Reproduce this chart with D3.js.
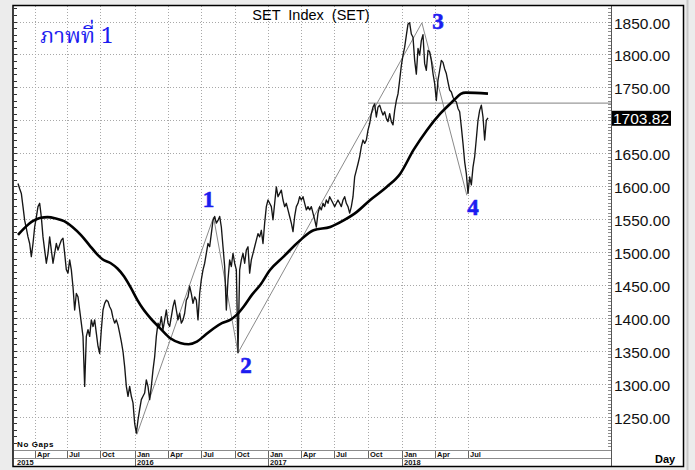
<!DOCTYPE html>
<html>
<head>
<meta charset="utf-8">
<script src="https://cdn.jsdelivr.net/npm/d3@7"></script>
<style>
    html, body { margin: 0; padding: 0; background: #ececec; }
    svg { display: block; }
    .grid line { stroke: #a8a8a8; stroke-width: 1; stroke-dasharray: 1,2; }
    .price { fill: none; stroke: #161616; stroke-width: 1.35; stroke-linejoin: round; }
    .ma { fill: none; stroke: #000; stroke-width: 2.6; }
    .trend { fill: none; stroke: #8a8a8a; stroke-width: 1; }
    .level { stroke: #9a9a9a; stroke-width: 1.4; }
    .ylabel { font: 15.5px "Liberation Sans", Arial, sans-serif; fill: #111; }
    .tlabel { font: bold 7.5px "Liberation Sans", Arial, sans-serif; fill: #111; }
    .wave { font: bold 23px "Liberation Serif", "Times New Roman", serif; fill: #1c1cf0; stroke: #1c1cf0; stroke-width: 0.6; text-anchor: middle; }
</style>
</head>
<body>
<svg id="chart" width="695" height="470"></svg>
<script>
// SET index, one close every 3 sessions, starting mid Feb 2015
const SESSION_STEP = 3;
const closes = [
    1604, 1596, 1589, 1569, 1548, 1536, 1523, 1513, 1493, 1513,
    1538, 1553, 1569, 1574, 1553, 1523, 1503, 1483, 1498, 1523,
    1503, 1483, 1498, 1513, 1503, 1511, 1518, 1521, 1498, 1473,
    1468, 1488, 1473, 1447, 1412, 1437, 1432, 1412, 1392, 1372,
    1296, 1372, 1382, 1372, 1397, 1387, 1397, 1377, 1357, 1346,
    1382, 1412, 1422, 1427, 1425, 1417, 1412, 1400, 1392, 1397,
    1389, 1377, 1364, 1349, 1326, 1296, 1281, 1296, 1281, 1271,
    1240, 1225, 1245, 1261, 1276, 1281,
    1286, 1306, 1296, 1276, 1296, 1321, 1341, 1372, 1392, 1387,
    1402, 1382, 1397, 1412, 1392, 1387, 1402, 1417, 1427, 1412,
    1397, 1407, 1392, 1397, 1407, 1427, 1432, 1448, 1437, 1422,
    1432, 1427, 1397, 1437, 1458, 1473, 1483, 1498, 1513, 1508,
    1528, 1548, 1554, 1544, 1548, 1554, 1538, 1508, 1478, 1412,
    1458, 1488, 1478, 1498, 1483, 1473, 1347, 1473, 1488, 1498,
    1483, 1503, 1508, 1468, 1488, 1498, 1508, 1518,
    1528, 1523, 1533, 1513, 1544, 1569, 1579, 1574, 1569, 1549,
    1574, 1599, 1584, 1589, 1594, 1579, 1569, 1574, 1564, 1554,
    1544, 1531, 1554, 1569, 1574, 1584, 1579, 1584, 1574, 1564,
    1569, 1564, 1569, 1559, 1549, 1538, 1559, 1569, 1564, 1574,
    1569, 1579, 1574, 1584, 1579, 1574, 1569, 1574, 1579, 1574,
    1569, 1579, 1584, 1574, 1569, 1559, 1569, 1584, 1614, 1624,
    1634, 1645, 1660, 1670, 1665, 1670, 1685, 1695, 1710, 1720,
    1725, 1705,
    1720, 1723, 1715, 1708, 1713, 1703, 1698, 1710, 1698, 1693,
    1715, 1730, 1740, 1761, 1783, 1799, 1811, 1829, 1846, 1848,
    1831, 1826, 1791, 1770, 1809, 1799, 1821, 1830, 1786, 1776,
    1806, 1804, 1791, 1771, 1756, 1730, 1761, 1776, 1791, 1788,
    1778, 1771, 1758, 1746, 1743, 1735, 1730, 1728, 1718, 1713,
    1690, 1665, 1637, 1619, 1589, 1614, 1602, 1629, 1645, 1672,
    1700, 1715, 1723, 1705, 1670, 1700, 1703.82
];

// 200 day average
const maSessions = [0, 11, 20, 29, 41, 53, 68, 83, 98, 113, 128, 143, 152, 167, 179, 191, 203, 215, 224, 238,
    256, 274, 292, 307, 322, 337, 352, 367, 382, 394, 406, 421, 436, 454, 478, 508, 532, 562, 586, 610,
    634, 664, 688, 712, 736, 760, 784, 797, 806, 846];
const maValues = [1526, 1536, 1543, 1548, 1552, 1553, 1551, 1547, 1538, 1526, 1511, 1496, 1489, 1483, 1475, 1463, 1446, 1427, 1415, 1400,
    1384, 1369, 1362, 1360, 1364, 1374, 1384, 1392, 1397, 1405, 1417, 1435, 1450, 1473, 1493, 1518, 1533, 1538, 1548, 1561,
    1579, 1599, 1619, 1655, 1685, 1710, 1730, 1740, 1742, 1740.5];

// wave 0-1-2-3-4 trend lines
const trendSessions = [214, 352, 396, 727, 808];
const trendValues = [1223, 1553, 1347, 1848, 1586];
const waveLabels = ['1', '2', '3', '4'];

const levelValue = 1726;
const levelStart = 630;
const lastValue = 1703.82;

const yTicks = [1250, 1300, 1350, 1400, 1450, 1500, 1550, 1600, 1650, 1700, 1750, 1800, 1850];
const monthTicks = [31, 88, 148, 211, 270, 329, 391, 450, 509, 569, 630, 691, 751, 810];
const monthLabels = ['Apr', 'Jul', 'Oct', 'Jan', 'Apr', 'Jul', 'Oct', 'Jan', 'Apr', 'Jul', 'Oct', 'Jan', 'Apr', 'Jul'];
const yearTicks = [-7, 211, 450, 691];
const yearLabels = ['2015', '2016', '2017', '2018'];

(function () {
    const plot = { left: 14, right: 611, top: 6, bottom: 450 };
    const svg = d3.select('#chart');

    const x = d3.scaleLinear().domain([-7.2, 1067.4]).range([plot.left, plot.right]);
    const y = d3.scaleLinear().domain([1250, 1850]).range([416.7, 21.5]);

    function drawFrame() {
        svg.append('rect')
            .attr('x', 13).attr('y', 5).attr('width', 671).attr('height', 462)
            .attr('fill', '#fff');
        svg.append('line')
            .attr('x1', 687.5).attr('x2', 687.5).attr('y1', 0).attr('y2', 470)
            .attr('stroke', '#c8c8c8').attr('stroke-width', 2);
    }

    function drawGrid() {
        const g = svg.append('g').attr('class', 'grid');
        g.selectAll('.h').data(yTicks).enter().append('line')
            .attr('x1', plot.left).attr('x2', plot.right)
            .attr('y1', d => Math.round(y(d)) + 0.5).attr('y2', d => Math.round(y(d)) + 0.5);
        g.selectAll('.v').data(monthTicks).enter().append('line')
            .attr('x1', d => Math.round(x(d)) + 0.5).attr('x2', d => Math.round(x(d)) + 0.5)
            .attr('y1', plot.top).attr('y2', plot.bottom);
    }

    function drawSeries() {
        svg.append('clipPath').attr('id', 'clip')
            .append('rect')
            .attr('x', plot.left).attr('y', plot.top)
            .attr('width', plot.right - plot.left).attr('height', plot.bottom - plot.top);
        const g = svg.append('g').attr('clip-path', 'url(#clip)');

        g.append('line')
            .attr('class', 'level')
            .attr('x1', x(levelStart)).attr('x2', plot.right)
            .attr('y1', y(levelValue)).attr('y2', y(levelValue));

        const trend = d3.line()
            .x((d, i) => x(trendSessions[i]))
            .y(d => y(d));
        g.append('path').attr('class', 'trend').attr('d', trend(trendValues));

        const price = d3.line()
            .x((d, i) => x(i * SESSION_STEP))
            .y(d => y(d));
        g.append('path').attr('class', 'price').attr('d', price(closes));

        const ma = d3.line()
            .x((d, i) => x(maSessions[i]))
            .y(d => y(d))
            .curve(d3.curveMonotoneX);
        g.append('path').attr('class', 'ma').attr('d', ma(maValues));
    }

    function drawAxes() {
        // right value axis
        const minor = d3.range(1200, 1875, 5);
        svg.append('g').selectAll('line').data(minor).enter().append('line')
            .attr('x1', 608).attr('x2', 612)
            .attr('y1', d => Math.round(y(d)) + 0.5).attr('y2', d => Math.round(y(d)) + 0.5)
            .attr('stroke', '#8c8c8c');
        svg.append('line')
            .attr('x1', 611.5).attr('x2', 611.5).attr('y1', plot.top).attr('y2', 467)
            .attr('stroke', '#555');
        // the last value box hides the label next to it
        const shown = yTicks.filter(d => Math.abs(d - lastValue) > 20);
        svg.append('g').selectAll('text').data(shown).enter().append('text')
            .attr('class', 'ylabel')
            .attr('x', 614).attr('y', d => y(d) + 7)
            .text(d => d3.format('.2f')(d));

        // left ticks
        const leftTicks = d3.range(1200, 1875, 10);
        svg.append('g').selectAll('line').data(leftTicks).enter().append('line')
            .attr('x1', 14).attr('x2', 17)
            .attr('y1', d => Math.round(y(d)) + 0.5).attr('y2', d => Math.round(y(d)) + 0.5)
            .attr('stroke', '#333');

        // last value box
        svg.append('rect')
            .attr('x', 612).attr('y', y(lastValue) - 7).attr('width', 59).attr('height', 15)
            .attr('fill', '#000');
        svg.append('text')
            .attr('class', 'ylabel').style('fill', '#fff')
            .attr('x', 613).attr('y', y(lastValue) + 6.5)
            .text(d3.format('.2f')(lastValue));

        // date axis
        const dg = svg.append('g');
        dg.append('rect').attr('x', plot.left).attr('y', 450).attr('width', plot.right - plot.left).attr('height', 16)
            .attr('fill', '#fff');
        [450.5, 458.5].forEach(yy => {
            dg.append('line').attr('x1', plot.left).attr('x2', plot.right).attr('y1', yy).attr('y2', yy)
                .attr('stroke', '#8c8c8c');
        });
        dg.selectAll('.mt').data(monthTicks).enter().append('line')
            .attr('x1', d => Math.round(x(d)) + 0.5).attr('x2', d => Math.round(x(d)) + 0.5)
            .attr('y1', 451).attr('y2', 458)
            .attr('stroke', '#666');
        dg.selectAll('.ml').data(monthTicks).enter().append('text')
            .attr('class', 'tlabel')
            .attr('x', d => Math.round(x(d)) + 2).attr('y', 456.5)
            .text((d, i) => monthLabels[i]);
        dg.selectAll('.yt').data(yearTicks.slice(1)).enter().append('line')
            .attr('x1', d => Math.round(x(d)) + 0.5).attr('x2', d => Math.round(x(d)) + 0.5)
            .attr('y1', 459).attr('y2', 466)
            .attr('stroke', '#666');
        dg.selectAll('.yl').data(yearTicks).enter().append('text')
            .attr('class', 'tlabel')
            .attr('x', d => Math.max(Math.round(x(d)) + 2, 17)).attr('y', 465)
            .text((d, i) => yearLabels[i]);

        svg.append('text')
            .attr('x', 655).attr('y', 463)
            .style('font', 'bold 11px "Liberation Sans", Arial, sans-serif')
            .text('Day');
        svg.append('text')
            .attr('x', 17).attr('y', 447)
            .style('font', 'bold 8px "Liberation Sans", Arial, sans-serif')
            .style('letter-spacing', '0.6px')
            .text('No Gaps');

        // outer border
        svg.append('rect')
            .attr('x', 13).attr('y', 5.5).attr('width', 670.5).attr('height', 461)
            .attr('fill', 'none').attr('stroke', '#000').attr('stroke-width', 1.5);
    }

    function drawLabels() {
        svg.append('text')
            .attr('x', 311).attr('y', 19.5)
            .attr('text-anchor', 'middle')
            .style('font', '14.5px "Liberation Sans", Arial, sans-serif')
            .style('white-space', 'pre')
            .text('SET  Index  (SET)');

        svg.append('text')
            .attr('x', 40).attr('y', 43)
            .style('font', '22px "Noto Serif Thai", "Noto Sans Thai", "Loma", "Garuda", "Liberation Serif", serif')
            .style('fill', '#1c1cf0')
            .text('ภาพที่ 1');

        const offsets = [[-5, -10], [8, 20], [16, 6], [6, 20]];
        svg.selectAll('.wave').data(waveLabels).enter().append('text')
            .attr('class', 'wave')
            .attr('x', (d, i) => x(trendSessions[i + 1]) + offsets[i][0])
            .attr('y', (d, i) => y(trendValues[i + 1]) + offsets[i][1])
            .text(d => d);
    }

    drawFrame();
    drawGrid();
    drawSeries();
    drawAxes();
    drawLabels();
})();
</script>
</body>
</html>
